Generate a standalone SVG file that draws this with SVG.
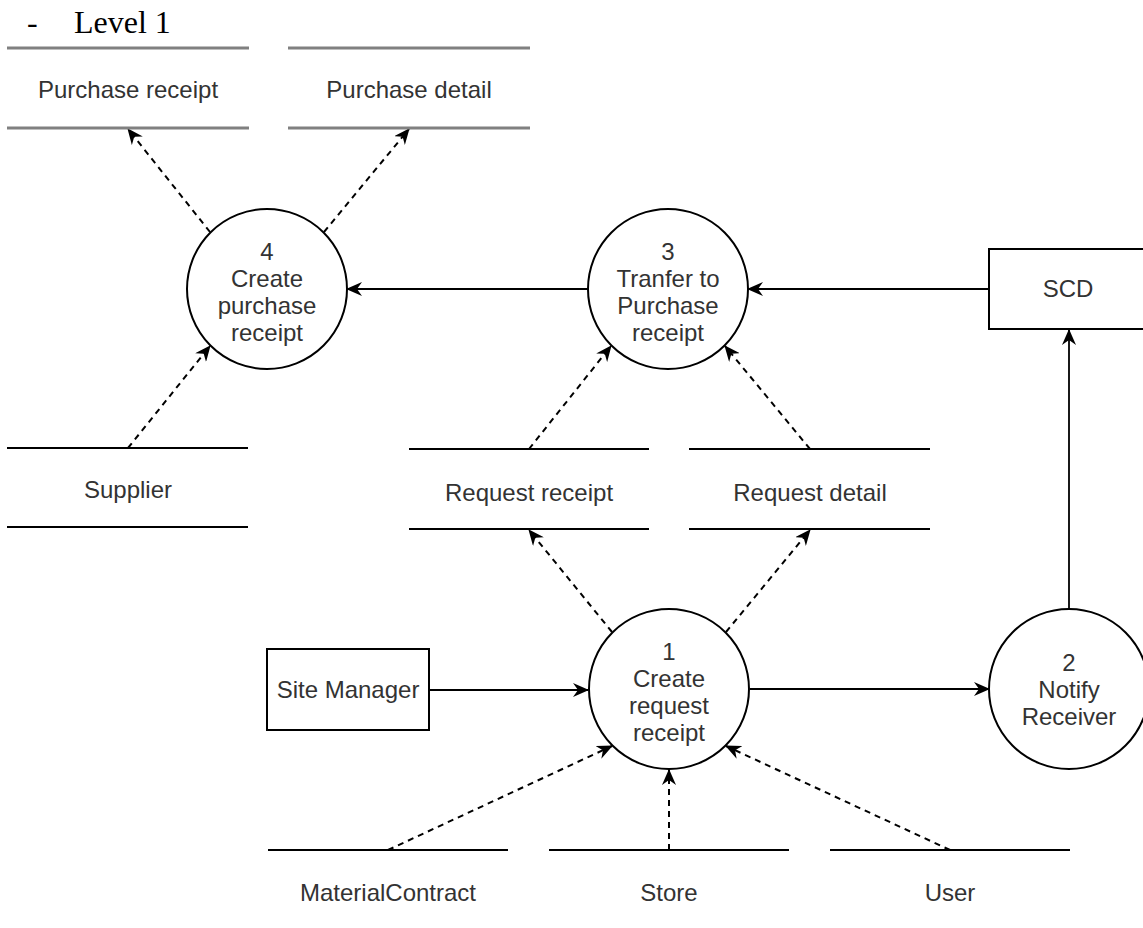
<svg xmlns="http://www.w3.org/2000/svg" width="1143" height="928" viewBox="0 0 1143 928">
  <style>
    .lbl { font-family: "Liberation Sans", Arial, sans-serif; font-size: 24px; fill: #333333; text-anchor: middle; }
    .hdr { font-family: "Liberation Serif", "Times New Roman", serif; font-size: 32px; fill: #000000; }
    .proc { fill: #ffffff; stroke: #000000; stroke-width: 2; }
    .ent { fill: #ffffff; stroke: #000000; stroke-width: 2; }
    .store { stroke: #000000; stroke-width: 2; fill: none; }
    .store-top { stroke: #808080; stroke-width: 3; fill: none; }
    .flow { stroke: #000000; stroke-width: 1.8; fill: none; marker-end: url(#arrow); }
    .data { stroke: #000000; stroke-width: 2; fill: none; stroke-dasharray: 6 5; marker-end: url(#arrow); }
  </style>
  <defs>
    <marker id="arrow" markerUnits="userSpaceOnUse" viewBox="0 0 16 14" markerWidth="16" markerHeight="14" refX="15" refY="7" orient="auto">
      <path d="M0,0 L16,7 L0,14 L5,7 Z" fill="#000000"/>
    </marker>
  </defs>
  <rect width="1143" height="928" fill="#ffffff"/>

  <!-- heading -->
  <text class="hdr" x="27" y="33">-</text>
  <text class="hdr" x="74" y="33">Level 1</text>

  <!-- connectors -->
  <g id="connectors">
    <!-- solid flows -->
    <line class="flow" x1="429" y1="690" x2="588" y2="690"/>
    <line class="flow" x1="750" y1="689" x2="989" y2="689"/>
    <line class="flow" x1="1069" y1="609" x2="1069" y2="330"/>
    <line class="flow" x1="989" y1="289" x2="748" y2="289"/>
    <line class="flow" x1="588" y1="289" x2="347" y2="289"/>
    <!-- data store flows -->
    <line class="data" x1="612" y1="632" x2="529" y2="530"/>
    <line class="data" x1="726" y1="632" x2="810" y2="530"/>
    <line class="data" x1="529" y1="449" x2="611" y2="346"/>
    <line class="data" x1="810" y1="449" x2="725" y2="346"/>
    <line class="data" x1="210" y1="232" x2="128" y2="129"/>
    <line class="data" x1="324" y1="232" x2="409" y2="129"/>
    <line class="data" x1="128" y1="448" x2="210" y2="346"/>
    <line class="data" x1="388" y1="850" x2="612" y2="746"/>
    <line class="data" x1="669" y1="850" x2="669" y2="770"/>
    <line class="data" x1="950" y1="850" x2="726" y2="746"/>
  </g>

  <!-- processes -->
  <g id="p1">
    <circle class="proc" cx="669" cy="689" r="80"/>
    <text class="lbl" x="669" y="660">1</text>
    <text class="lbl" x="669" y="687">Create</text>
    <text class="lbl" x="669" y="714">request</text>
    <text class="lbl" x="669" y="741">receipt</text>
  </g>
  <g id="p2">
    <circle class="proc" cx="1069" cy="689" r="80"/>
    <text class="lbl" x="1069" y="671">2</text>
    <text class="lbl" x="1069" y="698">Notify</text>
    <text class="lbl" x="1069" y="725">Receiver</text>
  </g>
  <g id="p3">
    <circle class="proc" cx="668" cy="289" r="80"/>
    <text class="lbl" x="668" y="260">3</text>
    <text class="lbl" x="668" y="287">Tranfer to</text>
    <text class="lbl" x="668" y="314">Purchase</text>
    <text class="lbl" x="668" y="341">receipt</text>
  </g>
  <g id="p4">
    <circle class="proc" cx="267" cy="289" r="80"/>
    <text class="lbl" x="267" y="260">4</text>
    <text class="lbl" x="267" y="287">Create</text>
    <text class="lbl" x="267" y="314">purchase</text>
    <text class="lbl" x="267" y="341">receipt</text>
  </g>

  <!-- external entities -->
  <g id="scd">
    <rect class="ent" x="989" y="249" width="160" height="80"/>
    <text class="lbl" x="1068" y="297">SCD</text>
  </g>
  <g id="site-manager">
    <rect class="ent" x="267" y="649" width="162" height="81"/>
    <text class="lbl" x="348" y="698">Site Manager</text>
  </g>

  <!-- data stores -->
  <g id="purchase-receipt">
    <line class="store-top" x1="7" y1="48" x2="249" y2="48"/>
    <line class="store-top" x1="7" y1="128" x2="249" y2="128"/>
    <text class="lbl" x="128" y="98">Purchase receipt</text>
  </g>
  <g id="purchase-detail">
    <line class="store-top" x1="288" y1="48" x2="530" y2="48"/>
    <line class="store-top" x1="288" y1="128" x2="530" y2="128"/>
    <text class="lbl" x="409" y="98">Purchase detail</text>
  </g>
  <g id="supplier">
    <line class="store" x1="7" y1="448" x2="248" y2="448"/>
    <line class="store" x1="7" y1="527" x2="248" y2="527"/>
    <text class="lbl" x="128" y="498">Supplier</text>
  </g>
  <g id="request-receipt">
    <line class="store" x1="409" y1="449" x2="649" y2="449"/>
    <line class="store" x1="409" y1="529" x2="649" y2="529"/>
    <text class="lbl" x="529" y="501">Request receipt</text>
  </g>
  <g id="request-detail">
    <line class="store" x1="689" y1="449" x2="930" y2="449"/>
    <line class="store" x1="689" y1="529" x2="930" y2="529"/>
    <text class="lbl" x="810" y="501">Request detail</text>
  </g>
  <g id="material-contract">
    <line class="store" x1="268" y1="850" x2="508" y2="850"/>
    <text class="lbl" x="388" y="901">MaterialContract</text>
  </g>
  <g id="store">
    <line class="store" x1="549" y1="850" x2="789" y2="850"/>
    <text class="lbl" x="669" y="901">Store</text>
  </g>
  <g id="user">
    <line class="store" x1="830" y1="850" x2="1070" y2="850"/>
    <text class="lbl" x="950" y="901">User</text>
  </g>
</svg>
